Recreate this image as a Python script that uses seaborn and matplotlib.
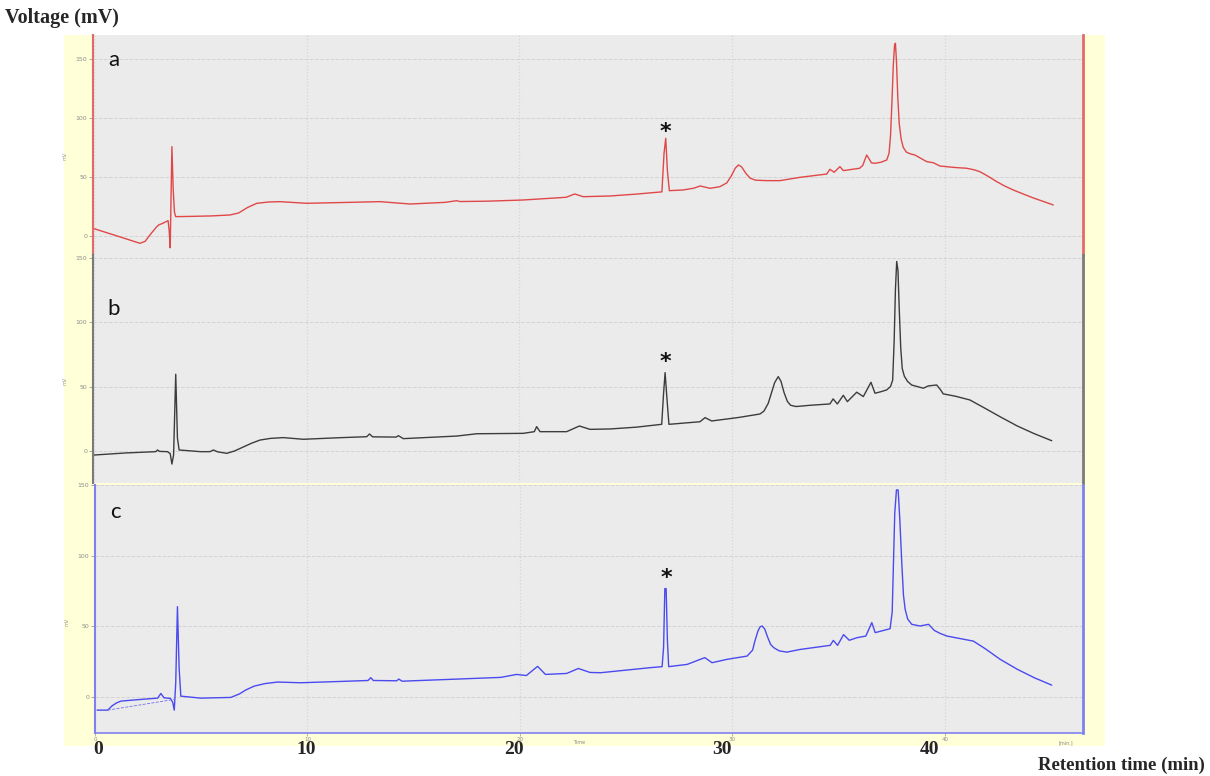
import matplotlib
matplotlib.use("Agg")
import matplotlib.pyplot as plt
import seaborn as sns
import pandas as pd

# chromatogram a (red)
a_time = [0.0, 1.0, 2.16, 2.4, 2.7, 2.95, 3.05, 3.2, 3.48, 3.53, 3.58, 3.66, 3.72, 3.78, 3.84,
          4.5, 5.5, 6.39, 6.8, 7.2, 7.65, 8.2, 8.74, 10.0, 12.0, 13.45, 14.86, 16.5, 17.05,
          17.2, 18.5, 20.17, 22.2, 22.6, 23.0, 24.26, 25.5, 26.7, 26.8, 26.88, 26.96, 27.05,
          27.7, 28.2, 28.5, 28.96, 29.43, 29.75, 29.95, 30.15, 30.3, 30.45, 30.65, 30.85,
          31.1, 31.63, 32.25, 33.19, 34.45, 34.6, 34.8, 35.07, 35.23, 36.0, 36.15, 36.25,
          36.33, 36.42, 36.55, 36.72, 37.0, 37.27, 37.38, 37.45, 37.52, 37.58, 37.64, 37.68,
          37.73, 37.79, 37.86, 37.95, 38.05, 38.2, 38.4, 38.6, 39.15, 39.46, 39.77, 40.5,
          41.03, 41.4, 41.65, 42.0, 42.4, 42.8, 43.22, 43.7, 44.2, 44.6, 45.1]
a_volt = [6.2, 0.5, -6.2, -4.5, 2.5, 7.9, 9.5, 10.5, 13.0, 5.0, -10.0, 75.7, 40.0, 20.0, 16.4,
          16.6, 17.0, 17.8, 19.5, 24.0, 27.7, 28.8, 29.1, 27.7, 28.5, 29.1, 27.1, 28.5, 29.9,
          29.2, 29.5, 30.5, 32.8, 35.6, 33.3, 33.9, 35.5, 37.4, 70.0, 82.8, 55.0, 38.4,
          39.0, 40.5, 42.4, 40.4, 41.8, 45.0, 50.5, 57.5, 60.2, 58.5, 53.0, 49.0,
          47.3, 46.9, 46.9, 49.7, 52.5, 56.5, 54.0, 58.8, 55.4, 57.4, 60.0, 65.0,
          68.6, 66.0, 62.0, 61.6, 62.5, 64.4, 70.0, 85.0, 115.0, 145.0, 162.0, 163.3,
          148.0, 118.0, 95.0, 82.0, 75.0, 71.0, 69.5, 68.6, 63.0, 62.1, 59.3, 58.0,
          57.4, 56.0, 54.5, 51.0, 46.5, 42.5, 39.0, 35.5, 32.0, 29.5, 26.3]

# chromatogram b (black)
b_time = [0.0, 1.5, 2.9, 2.98, 3.08, 3.45, 3.58, 3.66, 3.74, 3.84, 3.92, 4.0, 5.0, 5.45,
          5.61, 5.8, 6.24, 6.6, 7.0, 7.4, 7.8, 8.3, 8.9, 9.84, 11.5, 12.82, 12.95, 13.1,
          14.2, 14.31, 14.54, 17.05, 18.0, 20.18, 20.7, 20.81, 20.97, 22.22, 22.82, 23.32,
          24.26, 25.5, 26.69, 26.78, 26.85, 26.94, 27.03, 28.49, 28.73, 29.04, 30.3, 31.31,
          31.5, 31.7, 31.85, 32.0, 32.17, 32.3, 32.45, 32.6, 32.75, 33.0, 33.7, 34.6, 34.75,
          34.95, 35.23, 35.42, 35.86, 36.17, 36.53, 36.72, 37.0, 37.27, 37.45, 37.55, 37.62,
          37.68, 37.74, 37.8, 37.86, 37.93, 38.0, 38.1, 38.25, 38.44, 38.99, 39.23, 39.62,
          39.8, 39.93, 40.5, 41.18, 41.8, 42.6, 43.4, 44.2, 45.03]
b_volt = [-3.1, -1.5, -0.5, 0.8, -0.3, -0.5, -2.0, -10.1, -3.0, 59.5, 10.0, 0.8, -0.5, -0.5,
          0.8, -0.6, -1.8, 0.0, 3.0, 6.0, 8.5, 9.8, 10.4, 9.1, 10.3, 11.1, 13.2, 11.0,
          10.8, 11.9, 9.6, 11.6, 13.4, 13.7, 15.0, 18.9, 15.0, 15.0, 19.4, 16.8,
          17.1, 18.5, 20.7, 45.0, 60.8, 40.0, 20.7, 22.7, 25.9, 23.3, 26.0, 28.7,
          31.0, 37.0, 45.0, 53.0, 57.7, 54.0, 45.0, 38.5, 35.5, 34.5, 35.5, 36.5, 40.4,
          36.5, 43.2, 38.3, 45.6, 42.2, 53.3, 44.8, 46.0, 47.4, 50.0, 55.0, 85.0,
          125.0, 147.0, 140.0, 110.0, 80.0, 64.0, 58.0, 54.0, 51.2, 48.7, 50.5, 51.2,
          47.5, 44.3, 42.5, 39.6, 34.0, 26.6, 19.5, 13.5, 8.0]

# chromatogram c (blue)
c_time = [0.1, 0.6, 0.8, 1.0, 1.22, 2.16, 2.95, 3.1, 3.25, 3.55, 3.66, 3.73, 3.8, 3.88, 3.96,
          4.04, 4.98, 6.39, 6.8, 7.1, 7.49, 8.0, 8.59, 9.68, 11.5, 12.85, 12.98, 13.1, 14.2,
          14.3, 14.45, 16.7, 19.1, 19.84, 20.3, 20.83, 21.2, 22.2, 22.75, 23.3, 23.79, 26.14,
          26.69, 26.76, 26.82, 26.88, 26.94, 27.0, 27.87, 28.7, 29.04, 29.75, 30.69, 30.95,
          31.05, 31.2, 31.3, 31.4, 31.52, 31.65, 31.8, 31.94, 32.2, 32.56, 33.19, 34.6, 34.75,
          34.95, 35.23, 35.5, 35.86, 36.28, 36.56, 36.72, 37.42, 37.52, 37.58, 37.64, 37.72,
          37.8, 37.88, 37.97, 38.05, 38.13, 38.25, 38.44, 38.83, 39.23, 39.5, 39.77, 40.09,
          41.34, 41.9, 42.6, 43.4, 44.2, 45.03]
c_volt = [-9.5, -9.5, -6.5, -4.5, -3.1, -1.9, -1.0, 2.3, -0.8, -1.2, -4.0, -9.5, 10.0, 63.8,
          20.0, 0.4, -1.0, -0.5, 2.0, 4.8, 7.5, 9.3, 10.4, 9.9, 10.8, 11.5, 13.5, 11.5, 11.3,
          12.5, 11.0, 12.3, 13.7, 15.8, 15.0, 21.5, 15.8, 16.5, 20.0, 17.2, 17.0, 20.6,
          21.3, 35.0, 76.6, 76.6, 40.0, 21.3, 22.9, 27.7, 24.1, 26.5, 28.8, 33.0,
          39.0, 46.5, 49.5, 50.1, 48.0, 42.5, 37.0, 34.8, 32.5, 31.6, 33.5, 36.4, 39.9,
          36.4, 44.0, 40.0, 41.8, 43.0, 52.5, 45.4, 48.2, 60.0, 95.0, 130.0, 146.5,
          146.5, 125.0, 95.0, 72.0, 61.9, 55.0, 51.3, 50.1, 51.3, 47.0, 44.9, 43.0,
          39.4, 34.0, 26.5, 19.5, 13.5, 8.2]
c_base_time = [0.6, 3.73]
c_base_volt = [-9.5, -1.9]

# asterisk positions (time, mV)
star_a = (26.85, 88.5)
star_b = (26.85, 68.7)
star_c = (26.88, 84.2)

y_ticks = [0, 50, 100, 150]
x_ticks = [0, 10, 20, 30, 40]
big_labels = ["0", "10", "20", "30", "40"]

W, H = 1210, 776


def box(x0, y0, x1, y1):
    return [x0 / W, 1 - y1 / H, (x1 - x0) / W, (y1 - y0) / H]


sns.set_style("darkgrid", {"axes.facecolor": "#EBEBEB", "grid.color": "#D3D3D3",
                           "grid.linestyle": "--"})
plt.rcParams['font.family'] = ['DejaVu Sans']

fig = plt.figure(figsize=(W / 100, H / 100), dpi=100)

# yellow software frame behind the panels
bg = fig.add_axes(box(64, 35, 1105, 746))
bg.set_facecolor("#FFFFD8")
bg.set_xticks([])
bg.set_yticks([])
bg.grid(False)
for s in bg.spines.values():
    s.set_visible(False)

panels = [
    dict(t=a_time, v=a_volt, box=(93, 35, 1083, 255), xl=(-0.05, 46.5), yl=(-16.1, 170.3),
         line="#E04848", spine="#E46A6A", star=star_a, letter="a", ly=0.886),
    dict(t=b_time, v=b_volt, box=(93, 255, 1083, 483), xl=(-0.05, 46.5), yl=(-24.8, 152.0),
         line="#3C3C3C", spine="#7A7A7A", star=star_b, letter="b", ly=0.763),
    dict(t=c_time, v=c_volt, box=(95, 485, 1083, 733), xl=(0.05, 46.5), yl=(-25.7, 150.0),
         line="#4A4AF0", spine="#8080F0", star=star_c, letter="c", ly=0.891),
]

for i, p in enumerate(panels):
    ax = fig.add_axes(box(*p["box"]))
    df = pd.DataFrame({"time": p["t"], "mV": p["v"]})
    sns.lineplot(data=df, x="time", y="mV", ax=ax, color=p["line"], lw=1.0,
                 estimator=None, sort=False)
    ax.set_xlim(*p["xl"])
    ax.set_ylim(*p["yl"])
    ax.set_yticks(y_ticks)
    ax.set_xticks(x_ticks)
    ax.grid(True, axis="y", color="#D3D3D3", linestyle="--", lw=0.7)
    ax.grid(True, axis="x", color="#D6D6D6", linestyle=":", lw=0.9)
    ax.set_xlabel("")
    ax.set_ylabel("")
    ax.tick_params(axis="y", left=True, length=3, width=0.6, color="#999999",
                   labelsize=4.5, labelcolor="#8C8C8C", pad=1)
    for s in ax.spines.values():
        s.set_visible(False)
    ax.spines["left"].set_visible(True)
    ax.spines["left"].set_color(p["spine"])
    ax.spines["left"].set_linewidth(1.5)
    ax.spines["right"].set_visible(True)
    ax.spines["right"].set_color(p["spine"])
    ax.spines["right"].set_linewidth(2.0)
    ax.text(0.015, p["ly"], p["letter"], transform=ax.transAxes, fontsize=16,
            family="Lato", ha="left", va="center", color="#111111")
    ax.text(p["star"][0], p["star"][1], "*", ha="center", va="center", fontsize=16,
            fontweight="bold", color="#111111")
    ax.text(-0.028, 0.45, "mV", transform=ax.transAxes, rotation=90, fontsize=3.5,
            color="#9A9A9A", ha="center", va="center")
    if i < 2:
        ax.tick_params(axis="x", labelbottom=False, length=0)
    else:
        ax.spines["bottom"].set_visible(True)
        ax.spines["bottom"].set_color(p["spine"])
        ax.spines["bottom"].set_linewidth(1.2)
        ax.tick_params(axis="x", bottom=True, length=2, width=0.5, color="#999999",
                       labelsize=4, labelcolor="#8C8C8C", pad=1)
        ax.text(0.49, -0.045, "Time", transform=ax.transAxes, fontsize=3.5,
                color="#8C8C8C", ha="center")
        ax.text(0.99, -0.045, "[min.]", transform=ax.transAxes, fontsize=3.5,
                color="#8C8C8C", ha="right")
        ax.plot(c_base_time, c_base_volt, color="#7070F0", lw=0.6, ls="--")

# big bold time labels under the frame
ax_out = fig.add_axes(box(98, 700, 930, 740), frameon=False)
ax_out.patch.set_alpha(0)
ax_out.set_xlim(0, 40)
ax_out.set_xticks(x_ticks)
ax_out.set_xticklabels(big_labels, fontsize=14, fontweight="bold", family="Liberation Serif")
ax_out.set_yticks([])
ax_out.grid(False)
ax_out.tick_params(axis="x", length=0, pad=1)

fig.text(5 / W, 1 - 18 / H, "Voltage (mV)", fontsize=14.5, fontweight="bold",
         family="Liberation Serif", ha="left", va="center")
fig.text(1205 / W, 1 - 765 / H, "Retention time (min)", fontsize=13.5, fontweight="bold",
         family="Liberation Serif", ha="right", va="center")

fig.savefig("out.png", dpi=100)
